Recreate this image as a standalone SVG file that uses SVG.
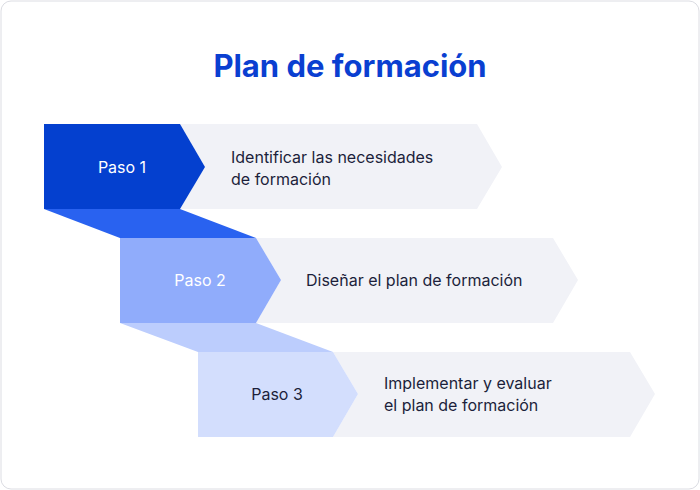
<svg xmlns="http://www.w3.org/2000/svg" width="700" height="490" viewBox="0 0 700 490">
<style>
.t{font-family:Inter,"Noto Sans",sans-serif;font-size:16px;fill:#1c1f3b}
.g{fill:#f1f2f7}
</style>
<rect x="1" y="1" width="698" height="488" rx="10" fill="#fff" stroke="#dcdde3"/>
<text x="350" y="77" text-anchor="middle" style="font-family:Inter,sans-serif;font-size:31px;font-weight:700;fill:#0a3fd1">Plan de formación</text>
<g id="connectors">
<polygon points="44,209 180,209 256,238 120,238" fill="#2962f0"/>
<polygon points="120,323 256,323 333,352 198,352" fill="#bccdfd"/>
</g>
<g id="step1">
<polygon class="g" points="180,124 477,124 502,167 477,209 180,209 205,167"/>
<polygon points="44,124 180,124 205,167 180,209 44,209" fill="#0440cf"/>
<text class="t" x="122" y="173" text-anchor="middle" fill="#fff" style="fill:#fff">Paso 1</text>
<text class="t" x="231" y="163">Identificar las necesidades</text>
<text class="t" x="231" y="185">de formación</text>
</g>
<g id="step2">
<polygon class="g" points="256,238 553,238 578,280 553,323 256,323 281,280"/>
<polygon points="120,238 256,238 281,280 256,323 120,323" fill="#90acfb"/>
<text class="t" x="200" y="286" text-anchor="middle" style="fill:#fff">Paso 2</text>
<text class="t" x="306" y="286">Diseñar el plan de formación</text>
</g>
<g id="step3">
<polygon class="g" points="333,352 630,352 655,394 630,437 333,437 358,394"/>
<polygon points="198,352 333,352 358,394 333,437 198,437" fill="#d3defd"/>
<text class="t" x="277" y="400" text-anchor="middle">Paso 3</text>
<text class="t" x="384" y="389">Implementar y evaluar</text>
<text class="t" x="384" y="411">el plan de formación</text>
</g>
</svg>
